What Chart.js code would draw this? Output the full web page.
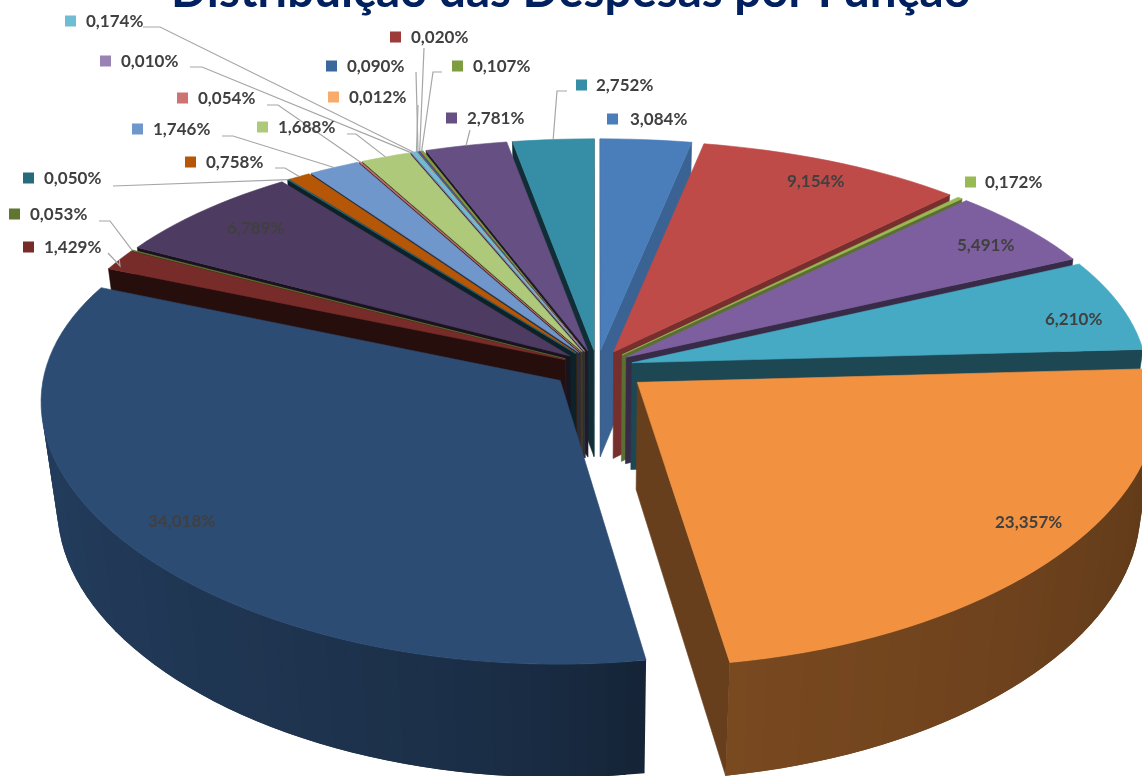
<!DOCTYPE html>
<html><head><meta charset="utf-8">
<style>html,body{margin:0;padding:0;background:#fff;overflow:hidden;width:1142px;height:776px}
#wrap{position:absolute;left:0;top:-40px;width:1142px;height:816px}</style>
<script src="https://cdn.jsdelivr.net/npm/chart.js@4"></script>
</head><body><div id="wrap"><canvas id="c" width="1142" height="816"></canvas></div>
<script>
const titleText = "Distribuição das Despesas por Função";
const labels = ["3,084%","9,154%","0,172%","5,491%","6,210%","23,357%","34,018%","1,429%","0,053%","6,789%","0,050%","0,758%","1,746%","0,054%","1,688%","0,010%","0,174%","0,012%","0,090%","0,020%","0,107%","2,781%","2,752%"];
const values = [3.084,9.154,0.172,5.491,6.210,23.357,34.018,1.429,0.053,6.789,0.050,0.758,1.746,0.054,1.688,0.010,0.174,0.012,0.090,0.020,0.107,2.781,2.752];
const colors = ["#4A7EBB","#BE4B48","#98B954","#7D5FA0","#46AAC4","#F29240","#2C4C74","#772C2A","#5F7530","#4D3B62","#276A7C","#B65708","#6F97CB","#CD7371","#AFC97A","#9983B5","#6FBDD3","#F9AB6B","#3A679C","#9E3B38","#7E9C40","#664F83","#358EA6"];
const explode = [.07,.07,.07,.07,.07,.1,.09,.07,.07,.07,.07,.07,.07,.07,.07,.07,.07,.07,.07,.07,.07,.07,.07];
const endWallShade = [.78,.62,.6,.45,.42,.43,.4,.4,.4,.4,.4,.4,.4,.4,.4,.4,.4,.4,.4,.4,.4,.4,.4];
const startWallShade = .32;
const rimShadeFrom = {5:.38,6:.42};
const rimShadeTo = {5:.5,6:.86};
const rimShadeCurve = {5:1,6:.45};
// label placement: key left x, centre y, text left x
const labelPlace = [[607,119,630],[766,181,787],[965,182,985],[936,245,957],[1024,319,1045],[975,522,995],[127,521,148],[23,247,44],[9,214,30],[206,228,227],[23,178,44],[185,162,206],[132,129,153],[177,98,198],[257,127,278],[100,61,121],[65,21,86],[328,97,349],[326,66,347],[390,37,411],[452,66,473],[446,118,467],[576,85,596]];
const onSlice = new Set([1,3,4,5,6,9]);
// leader start points by slice index (start, elbow)
const leaders = {
 7:[[108,253],[120,266]],
 8:[[99,221],[110,221]],
 10:[[113,186],[113,186]],
 11:[[275,168],[285,168]],
 12:[[222,136],[233,136]],
 13:[[267,105],[278,105]],
 14:[[347,134],[356,134]],
 15:[[190,67],[202,67]],
 16:[[143,27],[160,27]],
 17:[[418,105],[418,105]],
 18:[[416,72],[416,72]],
 19:[[424,48],[424,48]],
 20:[[442,72],[433,72]],
 21:[[470,130],[470,130]],
 22:[[567,91],[557,91]]
};
const TOP = 40, CX = 597, CY = 367, RX = 515, RY = 243, DEPTH = 110, KY = .13, KX = .08, KZ = .03;

function project(x, y, z){
  const w = 1 + KY*y + KZ*z, wx = 1 + KX*y + KZ*z;
  return [CX + RX*x/wx, TOP + CY + (-RY*y + DEPTH*z)/w];
}
function rgb(hex){return [1,3,5].map(i=>parseInt(hex.substr(i,2),16));}
function shade(hex,f){return 'rgb('+rgb(hex).map(v=>Math.round(v*f)).join(',')+')';}
function poly(ctx,pts,col,noStroke){
  ctx.beginPath();pts.forEach((p,i)=>i?ctx.lineTo(p[0],p[1]):ctx.moveTo(p[0],p[1]));ctx.closePath();
  ctx.fillStyle=col;ctx.fill();
  if(!noStroke){ctx.strokeStyle=col;ctx.lineWidth=.6;ctx.stroke();}
}
function area(p){let s=0;for(let i=0;i<p.length;i++){const a=p[i],b=p[(i+1)%p.length];s+=a[0]*b[1]-b[0]*a[1];}return s;}

const pie3d = {
  id:'pie3d',
  beforeDatasetsDraw(chart){
    const ctx = chart.ctx, arcs = chart.getDatasetMeta(0).data;
    const geo = arcs.map((arc,i)=>{
      const {startAngle,endAngle} = arc.getProps(['startAngle','endAngle'],true);
      const a0 = startAngle+Math.PI/2, a1 = endAngle+Math.PI/2, m=(a0+a1)/2;
      return {i,a0,a1,m,ox:explode[i]*Math.sin(m),oy:explode[i]*Math.cos(m)};
    });
    const order = geo.slice().sort((p,q)=>Math.cos(q.m)-Math.cos(p.m));
    order.forEach(g=>{
      const col=colors[g.i];
      const pt=(a,r,z)=>project(g.ox+r*Math.sin(a),g.oy+r*Math.cos(a),z);
      const q0=[pt(g.a0,0,0),pt(g.a0,1,0),pt(g.a0,1,1),pt(g.a0,0,1)];
      const q1=[pt(g.a1,0,0),pt(g.a1,1,0),pt(g.a1,1,1),pt(g.a1,0,1)];
      if(area(q0)<0) poly(ctx,q0,shade(col,startWallShade));
      if(area(q1)>0) poly(ctx,q1,shade(col,endWallShade[g.i]));
      const steps=Math.max(1,Math.ceil((g.a1-g.a0)/(Math.PI/90)));
      const dA=(g.a1-g.a0)/steps;
      for(let s=0;s<steps;s++){
        const t0=g.a0+dA*s,t1=g.a0+dA*(s+1);
        const q=[pt(t0,1,0),pt(t1,1,0),pt(t1,1,1),pt(t0,1,1)];
        if(area(q)<0){
          const from=rimShadeFrom[g.i]??.5,to=rimShadeTo[g.i]??.5,c=rimShadeCurve[g.i]??1;
          const t2=Math.min(g.a1,t1+dA);
          const qq=[pt(t0,1,0),pt(t2,1,0),pt(t2,1,1),pt(t0,1,1)];
          poly(ctx,qq,shade(col,from+(to-from)*Math.pow((s+.5)/steps,c)),true);
        }
      }
      const top=[pt(g.a0,0,0)];
      for(let s=0;s<=steps;s++) top.push(pt(g.a0+dA*s,1,0));
      poly(ctx,top,col);
    });
    ctx.strokeStyle='#A6A6A6';ctx.lineWidth=1.2;
    geo.forEach(g=>{
      const l=leaders[g.i]; if(!l) return;
      const e=project(g.ox+Math.sin(g.m),g.oy+Math.cos(g.m),0);
      ctx.beginPath();ctx.moveTo(l[0][0],l[0][1]+TOP);ctx.lineTo(l[1][0],l[1][1]+TOP);ctx.lineTo(e[0],e[1]);ctx.stroke();
    });
    ctx.font='bold 17px Lato';ctx.textBaseline='middle';ctx.textAlign='left';
    labels.forEach((t,i)=>{
      const [kx,ky,tx]=labelPlace[i];
      ctx.fillStyle=colors[i];
      if(!onSlice.has(i)||i===5) ctx.fillRect(kx,ky+TOP-5.5,11,11);
      ctx.fillStyle='#404040';
      ctx.fillText(t,tx,ky+TOP+1);
    });
    return false;
  }
};
new Chart(document.getElementById('c'),{
  type:'pie',
  data:{labels,datasets:[{data:values,backgroundColor:colors,borderWidth:0}]},
  plugins:[pie3d],
  options:{
    responsive:false,animation:false,
    layout:{padding:0},
    plugins:{
      legend:{display:false},tooltip:{enabled:false},
      title:{display:true,text:titleText,color:'#002060',font:{family:'Lato',size:47.5,weight:'bold'},padding:{top:3,bottom:0}}
    }
  }
});
</script></body></html>
